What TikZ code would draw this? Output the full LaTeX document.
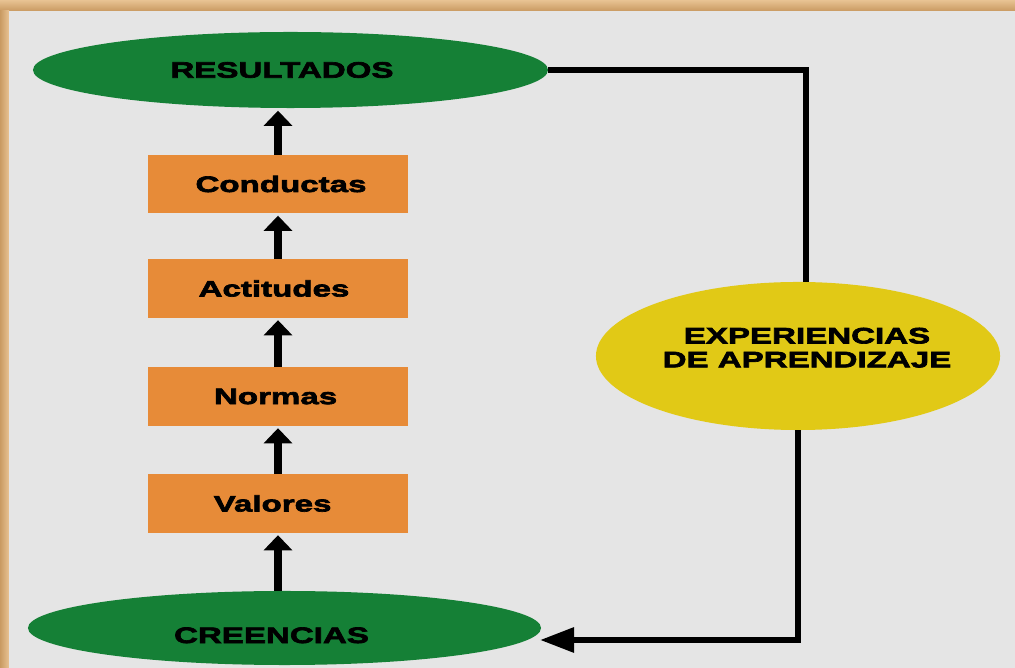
\documentclass[tikz,border=0pt]{standalone}
\usepackage{fontspec}
\newfontfamily\lblfont{Liberation Sans}[FakeStretch=1.48,FakeBold=3]
\usetikzlibrary{shapes.geometric,arrows.meta}
\definecolor{bggray}{RGB}{229,229,229}
\definecolor{framelight}{RGB}{232,195,147}
\definecolor{framedark}{RGB}{201,154,98}
\definecolor{ovalgreen}{RGB}{21,128,54}
\definecolor{boxorange}{RGB}{231,139,56}
\definecolor{ovalyellow}{RGB}{225,201,22}
\begin{document}
\begin{tikzpicture}[x=0.025cm,y=-0.025cm,
  lbl/.style={font=\lblfont\bfseries\fontsize{15.9pt}{17pt}\selectfont, text=black},
  oval/.style={ellipse, lbl, inner sep=0pt, fill=ovalgreen},
  stage/.style={rectangle, lbl, fill=boxorange, minimum width=6.5cm, minimum height=1.45cm, inner sep=0pt},
  up/.style={line width=0.2cm, -{Triangle[width=0.7cm,length=0.38cm]}, shorten >=0.06cm},
  fb/.style={line width=0.15cm, -{Triangle[width=0.6cm,length=0.85cm]}}]
  \useasboundingbox (0,0) rectangle (1015,668);
  % frame and background
  \fill[framedark] (0,0) rectangle (1015,668);
  \shade[top color=framelight, bottom color=framedark] (0,0) rectangle (1015,11);
  \shade[left color=framedark, right color=framelight] (0,11) rectangle (9,668);
  \fill[bggray] (9,11) rectangle (1015,668);

  % nodes
  \node[oval, minimum width=12.875cm, minimum height=1.9cm] (res) at (290.5,70) {\hspace*{-0.425cm}RESULTADOS};
  \node[stage] (con) at (278,184) {\hspace*{0.15cm}Conductas};
  \node[stage] (act) at (278,288.5) {\hspace*{-0.2cm}Actitudes};
  \node[stage] (nor) at (278,396.5) {\hspace*{-0.12cm}Normas};
  \node[stage] (val) at (278,503.5) {\hspace*{-0.27cm}Valores};
  \node[oval, minimum width=12.825cm, minimum height=1.85cm, text height=0.75cm, text depth=0pt] (cre) at (284.5,628) {\hspace*{-0.65cm}CREENCIAS};
  \node[oval, fill=ovalyellow, inner xsep=-0.8cm, minimum width=10.1cm, minimum height=3.7cm, align=center, text depth=12pt] (yel) at (798,356)
    {\hspace*{0.45cm}EXPERIENCIAS\\\hspace*{0.45cm}DE APRENDIZAJE};
  \coordinate (crin) at (540,640);

  % upward chain
  \draw[up] (cre.north -| val.south) -- (val.south);
  \draw[up] (val.north) -- (nor.south);
  \draw[up] (nor.north) -- (act.south);
  \draw[up] (act.north) -- (con.south);
  \draw[up] (con.north) -- (con.north |- res.south);

  % feedback loop
  \draw[line width=0.15cm] (res.east) -| ([xshift=0.2cm]yel.north);
  \draw[fb] (yel.south) |- (crin);
\end{tikzpicture}
\end{document}
